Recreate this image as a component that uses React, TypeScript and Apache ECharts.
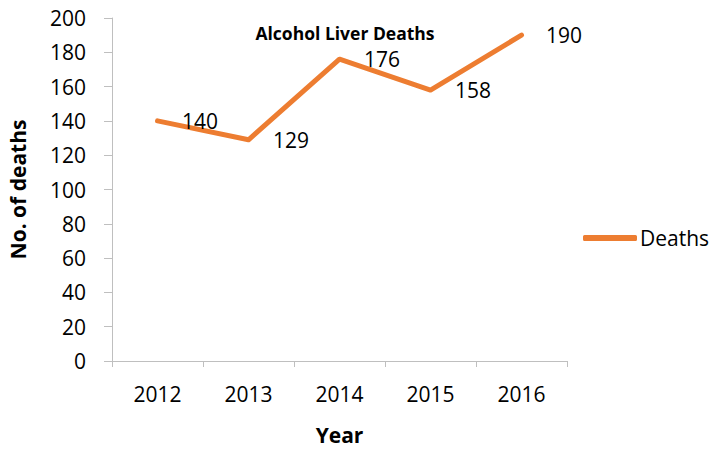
import React, { useEffect, useRef } from "react";
import * as echarts from "echarts";

const years = ["2012", "2013", "2014", "2015", "2016"];
const deaths = [140, 129, 176, 158, 190];
const seriesName = "Deaths";
const chartTitle = "Alcohol Liver Deaths";
const xTitle = "Year";
const yTitle = "No. of deaths";

const FONT = "'Open Sans', 'Noto Sans', sans-serif";
const ORANGE = "#ED7D31";

export default function App() {
  const ref = useRef<HTMLDivElement>(null);
  useEffect(() => {
    if (!ref.current) return;
    const chart = echarts.init(ref.current, undefined, { renderer: "svg" });
    chart.setOption({
      animation: false,
      backgroundColor: "#ffffff",
      textStyle: { fontFamily: FONT },
      title: {
        text: chartTitle,
        left: 340,
        top: 19,
        textAlign: "center",
        textStyle: { fontFamily: FONT, fontSize: 17.5, fontWeight: "bold", color: "#000" },
      },
      legend: {
        data: [{ name: seriesName, icon: "roundRect" }],
        left: 578,
        top: 221,
        itemWidth: 54,
        itemHeight: 6,
        itemGap: 6,
        textStyle: { fontFamily: FONT, fontSize: 21, color: "#000", lineHeight: 24, padding: [0, 0, 0, -2] },
      },
      grid: { left: 112, right: 149, top: 18, bottom: 88, containLabel: false, outerBoundsMode: "none" },
      xAxis: {
        type: "category",
        data: years,
        boundaryGap: true,
        name: xTitle,
        nameLocation: "middle",
        nameGap: 63,
        nameTextStyle: { fontFamily: FONT, fontSize: 21, fontWeight: "bold", color: "#000" },
        axisLine: { lineStyle: { color: "#BFBFBF", width: 1 } },
        axisTick: { show: true, length: 6, lineStyle: { color: "#BFBFBF" } },
        axisLabel: { fontFamily: FONT, fontSize: 21, color: "#000", margin: 22 },
        splitLine: { show: false },
      },
      yAxis: {
        type: "value",
        min: 0,
        max: 200,
        interval: 20,
        name: yTitle,
        nameLocation: "middle",
        nameGap: 84,
        nameRotate: 90,
        nameTextStyle: { fontFamily: FONT, fontSize: 21, fontWeight: "bold", color: "#000" },
        axisLine: { show: true, lineStyle: { color: "#BFBFBF", width: 1 } },
        axisTick: { show: true, length: 8, lineStyle: { color: "#BFBFBF" } },
        axisLabel: { fontFamily: FONT, fontSize: 21, color: "#000", margin: 26 },
        splitLine: { show: false },
      },
      series: [
        {
          name: seriesName,
          type: "line",
          data: deaths,
          symbol: "circle",
          symbolSize: 1,
          itemStyle: { color: ORANGE },
          lineStyle: { color: ORANGE, width: 5, cap: "round", join: "round" },
          label: {
            show: true,
            position: "right",
            distance: 24,
            fontFamily: FONT,
            fontSize: 21,
            color: "#000",
          },
        },
      ],
    });
    return () => chart.dispose();
  }, []);
  return <div ref={ref} style={{ width: 716, height: 449, position: "absolute", left: 0, top: 0 }} />;
}
